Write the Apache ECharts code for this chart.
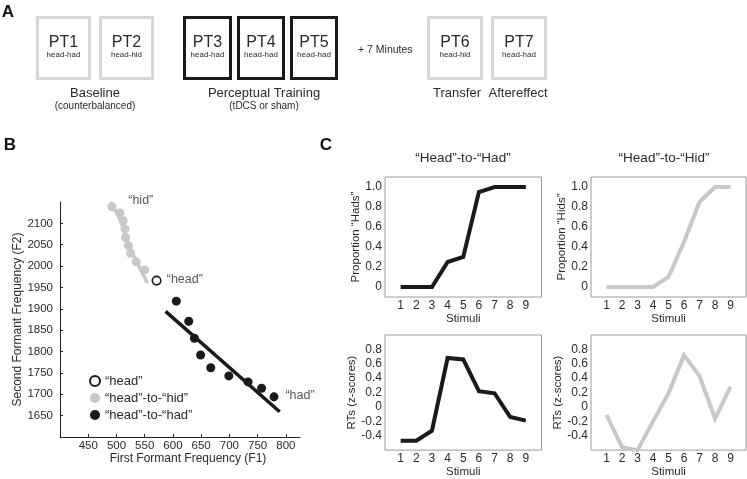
<!DOCTYPE html>
<html>
<head>
<meta charset="utf-8">
<script src="https://cdn.jsdelivr.net/npm/echarts@6.0.0/dist/echarts.min.js"></script>
<style>
html,body{margin:0;padding:0;background:#fff;}
#chart{width:747px;height:479px;}
</style>
</head>
<body>
<div id="chart"></div>
<script>
// ---- Panel B data (formant frequencies) ----
const f1Head = [571];
const f2Head = [1966];
const f1Hid = [492, 506, 512, 515, 516, 521, 525, 535, 550];
const f2Hid = [2139, 2124, 2106, 2087, 2067, 2048, 2030, 2010, 1991];
const f1Had = [606, 628, 638, 649, 667, 699, 733, 757, 779];
const f2Had = [1918, 1871, 1831, 1792, 1762, 1743, 1729, 1714, 1694];
const hidFitX = [489, 500, 512, 522, 535, 555];
const hidFitY = [2150, 2125, 2090, 2050, 2012, 1960];
const hadFitX = [587, 789];
const hadFitY = [1894, 1659];
const bXTicks = [450, 500, 550, 600, 650, 700, 750, 800];
const bYTicks = [1650, 1700, 1750, 1800, 1850, 1900, 1950, 2000, 2050, 2100];
const annText = ['\u201chid\u201d', '\u201chead\u201d', '\u201chad\u201d'];
const annX = [543, 621, 825];
const annY = [2153, 1968, 1697];

// ---- Panel C data ----
const stimuli = [1, 2, 3, 4, 5, 6, 7, 8, 9];
const propHads = [0, 0, 0, 0.25, 0.30, 0.95, 1, 1, 1];
const propHids = [0, 0, 0, 0, 0.10, 0.45, 0.85, 1, 1];
const rtHad = [-0.47, -0.47, -0.33, 0.68, 0.66, 0.22, 0.19, -0.14, -0.19];
const rtHid = [-0.11, -0.56, -0.60, -0.20, 0.19, 0.72, 0.43, -0.16, 0.28];
const propTicks = [0, 0.2, 0.4, 0.6, 0.8, 1.0];
const rtTicks = [-0.4, -0.2, 0, 0.2, 0.4, 0.6, 0.8];

const zip = (a, b) => a.map((v, i) => [v, b[i]]);
const FONT = 'Liberation Sans, Arial, Helvetica, sans-serif';
const BLACK = '#1a1a1a';
const GRAY = '#c8c8c8';
const TXT = '#2a2a2a';
const fmt = v => (Math.abs(v) < 1e-9 ? '0' : v.toFixed(1));
const plain = v => String(Math.round(v));

const chart = echarts.init(document.getElementById('chart'), null, {renderer: 'canvas'});

function cX(gi, nameGap) {
  return {
    type: 'value', gridIndex: gi, min: 0, max: 10,
    axisLine: {show: false}, axisTick: {show: false}, splitLine: {show: false},
    axisLabel: {customValues: stimuli, formatter: plain, color: TXT, fontSize: 12, fontFamily: FONT, margin: 3},
    name: 'Stimuli', nameLocation: 'middle', nameGap: nameGap,
    nameTextStyle: {color: TXT, fontSize: 11.5, fontFamily: FONT}
  };
}
function cY(gi, min, max, ticks, name) {
  return {
    type: 'value', gridIndex: gi, min: min, max: max,
    axisLine: {show: false}, axisTick: {show: false}, splitLine: {show: false},
    axisLabel: {customValues: ticks, formatter: fmt, color: TXT, fontSize: 12, fontFamily: FONT, margin: 3},
    name: name, nameLocation: 'middle', nameGap: 22,
    nameTextStyle: {color: TXT, fontSize: 11.5, fontFamily: FONT}
  };
}
function cLine(gi, data, color) {
  return {
    type: 'line', xAxisIndex: gi, yAxisIndex: gi, data: zip(stimuli, data),
    symbol: 'none', lineStyle: {color: color, width: 4, join: 'miter'}, silent: true
  };
}

// ---- Panel A schematic ----
const boxes = [
  {x: 36, w: 55, c: '#d6d6d6', t: 'PT1', s: 'head-had'},
  {x: 99, w: 55, c: '#d6d6d6', t: 'PT2', s: 'head-hid'},
  {x: 183, w: 49, c: BLACK, t: 'PT3', s: 'head-had'},
  {x: 237, w: 48, c: BLACK, t: 'PT4', s: 'head-had'},
  {x: 290, w: 48, c: BLACK, t: 'PT5', s: 'head-had'},
  {x: 427, w: 56, c: '#d6d6d6', t: 'PT6', s: 'head-hid'},
  {x: 491, w: 56, c: '#d6d6d6', t: 'PT7', s: 'head-had'}
];
const graphics = [];
boxes.forEach(b => {
  graphics.push({type: 'rect', shape: {x: b.x + 1.5, y: 17.5, width: b.w - 3, height: 61},
    style: {fill: '#fff', stroke: b.c, lineWidth: 3}});
  graphics.push({type: 'text', x: b.x + b.w / 2, y: 43, style: {text: b.t, font: '16px ' + FONT, fill: TXT, align: 'center', verticalAlign: 'middle'}});
  graphics.push({type: 'text', x: b.x + b.w / 2, y: 55, style: {text: b.s, font: '8px ' + FONT, fill: TXT, align: 'center', verticalAlign: 'middle'}});
});
const atext = (t, x, y, size, bold, align) => ({type: 'text', x: x, y: y,
  style: {text: t, font: (bold ? 'bold ' : '') + size + 'px ' + FONT, fill: bold ? '#111' : TXT, align: align || 'center', verticalAlign: 'middle'}});
graphics.push(atext('Baseline', 95, 93, 13));
graphics.push(atext('(counterbalanced)', 95, 106, 10));
graphics.push(atext('Perceptual Training', 264, 93, 13));
graphics.push(atext('(tDCS or sham)', 264, 106, 10));
graphics.push(atext('+ 7 Minutes', 358, 50, 10.5, false, 'left'));
graphics.push(atext('Transfer', 457, 93, 13));
graphics.push(atext('Aftereffect', 518, 93, 13));
graphics.push(atext('A', 8, 12, 17, true));
graphics.push(atext('B', 10, 145, 17, true));
graphics.push(atext('C', 326, 145, 17, true));
graphics.push(atext('\u201cHead\u201d-to-\u201cHad\u201d', 463, 158, 13.5));
graphics.push(atext('\u201cHead\u201d-to-\u201cHid\u201d', 664, 158, 13.5));

const option = {
  animation: false,
  backgroundColor: '#fff',
  textStyle: {fontFamily: FONT},
  graphic: graphics,
  legend: {
    orient: 'vertical', left: 84, top: 369, itemWidth: 10, itemHeight: 10, itemGap: 3,
    data: ['\u201chead\u201d', '\u201chead\u201d-to-\u201chid\u201d', '\u201chead\u201d-to-\u201chad\u201d'],
    icon: 'circle', textStyle: {color: TXT, fontSize: 13, fontFamily: FONT, lineHeight: 14}, selectedMode: false
  },
  grid: [
    {left: 60, top: 202, width: 240, height: 235},
    {left: 385, top: 177, width: 156.5, height: 120, show: true, borderColor: '#9a9a9a', borderWidth: 1},
    {left: 591, top: 177, width: 155, height: 120, show: true, borderColor: '#9a9a9a', borderWidth: 1},
    {left: 385, top: 335, width: 156.5, height: 119, show: true, borderColor: '#9a9a9a', borderWidth: 1},
    {left: 591, top: 335, width: 155, height: 119, show: true, borderColor: '#9a9a9a', borderWidth: 1}
  ],
  xAxis: [
    {
      type: 'value', gridIndex: 0, min: 400, max: 825,
      axisLine: {show: true, lineStyle: {color: '#222', width: 1}},
      axisTick: {show: true, inside: true, length: 3, customValues: bXTicks, lineStyle: {color: '#222'}},
      splitLine: {show: false},
      axisLabel: {customValues: bXTicks, formatter: plain, color: TXT, fontSize: 11.5, fontFamily: FONT, margin: 3},
      name: 'First Formant Frequency (F1)', nameLocation: 'middle', nameGap: 15,
      nameTextStyle: {color: TXT, fontSize: 12, fontFamily: FONT, padding: [0, 0, 0, 16]}
    },
    cX(1, 12), cX(2, 12), cX(3, 13), cX(4, 13)
  ],
  yAxis: [
    {
      type: 'value', gridIndex: 0, min: 1600, max: 2150,
      axisLine: {show: true, lineStyle: {color: '#222', width: 1}},
      axisTick: {show: true, inside: true, length: 3, customValues: bYTicks, lineStyle: {color: '#222'}},
      splitLine: {show: false},
      axisLabel: {customValues: bYTicks, formatter: plain, color: TXT, fontSize: 11.5, fontFamily: FONT, margin: 7},
      name: 'Second Formant Frequency (F2)', nameLocation: 'middle', nameGap: 33,
      nameTextStyle: {color: TXT, fontSize: 12, fontFamily: FONT}
    },
    cY(1, -0.1, 1.1, propTicks, 'Proportion \u201cHads\u201d'),
    cY(2, -0.1, 1.1, propTicks, 'Proportion \u201cHids\u201d'),
    cY(3, -0.6, 1.0, rtTicks, 'RTs (z-scores)'),
    cY(4, -0.6, 1.0, rtTicks, 'RTs (z-scores)')
  ],
  series: [
    {type: 'line', xAxisIndex: 0, yAxisIndex: 0, data: zip(hidFitX, hidFitY), smooth: 0.3,
      symbol: 'none', lineStyle: {color: GRAY, width: 3.5}, silent: true, clip: false},
    {type: 'line', xAxisIndex: 0, yAxisIndex: 0, data: zip(hadFitX, hadFitY),
      symbol: 'none', lineStyle: {color: BLACK, width: 3.5}, silent: true},
    {type: 'scatter', name: '\u201chead\u201d-to-\u201chid\u201d', xAxisIndex: 0, yAxisIndex: 0,
      data: zip(f1Hid, f2Hid), symbolSize: 9, itemStyle: {color: GRAY, opacity: 1}, silent: true},
    {type: 'scatter', name: '\u201chead\u201d-to-\u201chad\u201d', xAxisIndex: 0, yAxisIndex: 0,
      data: zip(f1Had, f2Had), symbolSize: 9, itemStyle: {color: BLACK, opacity: 1}, silent: true},
    {type: 'scatter', name: '\u201chead\u201d', xAxisIndex: 0, yAxisIndex: 0,
      data: zip(f1Head, f2Head), symbolSize: 8.5,
      itemStyle: {color: '#fff', borderColor: BLACK, borderWidth: 1.6, opacity: 1}, silent: true},
    {type: 'scatter', name: 'ann', xAxisIndex: 0, yAxisIndex: 0, clip: false, silent: true,
      data: annX.map((x, i) => [x, annY[i], annText[i]]), symbolSize: 0,
      label: {show: true, position: 'inside', formatter: p => p.data[2], color: TXT, fontSize: 12.5, fontFamily: FONT}},
    cLine(1, propHads, BLACK),
    cLine(2, propHids, GRAY),
    cLine(3, rtHad, BLACK),
    cLine(4, rtHid, GRAY)
  ]
};
chart.setOption(option);
</script>
</body>
</html>
